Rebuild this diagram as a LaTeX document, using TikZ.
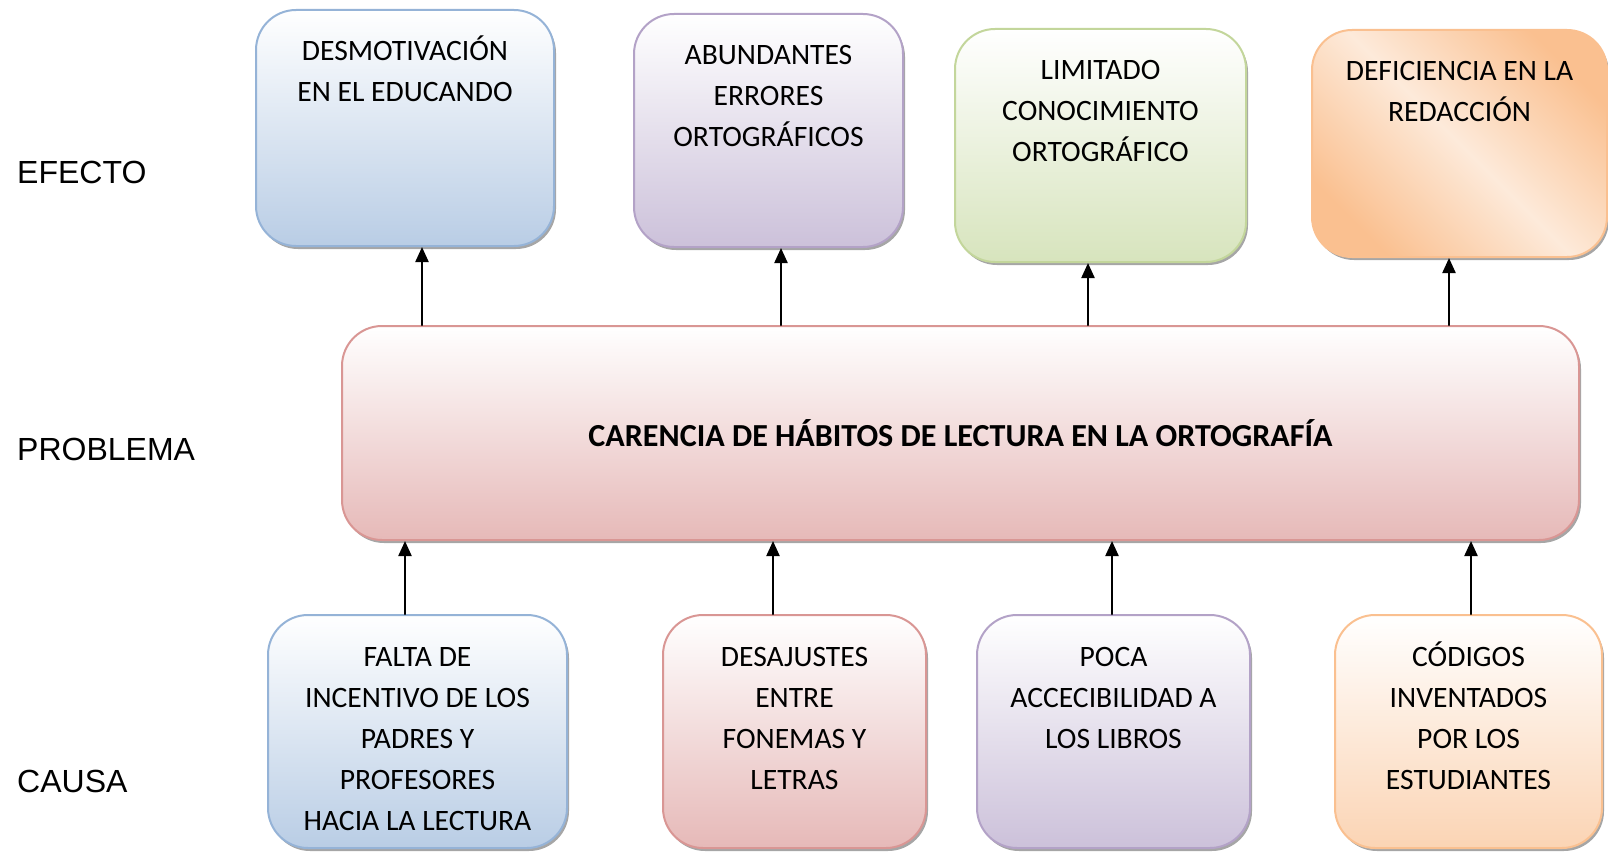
\documentclass[tikz,border=0pt]{standalone}
\usepackage{fontspec}
\setmainfont{Carlito}
\newfontfamily\arialfont{Liberation Sans}
\usetikzlibrary{arrows.meta, calc, positioning, shadows}
\definecolor{blueline}{RGB}{149,179,215}
\definecolor{bluefill}{RGB}{185,205,229}
\definecolor{purpleline}{RGB}{179,162,199}
\definecolor{purplefill}{RGB}{204,193,218}
\definecolor{greenline}{RGB}{195,214,155}
\definecolor{greenfill}{RGB}{215,228,189}
\definecolor{orangeline}{RGB}{250,192,144}
\definecolor{orangefill}{RGB}{251,212,180}
\definecolor{orangelight}{RGB}{253,234,218}
\definecolor{redline}{RGB}{217,150,148}
\definecolor{redfill}{RGB}{230,185,184}
% first line strut
\newcommand{\ftop}{\rule{0pt}{28.7pt}}

\begin{document}
\begin{tikzpicture}[x=1pt, y=-1pt, line cap=round, line join=round,
    box/.style={rounded corners=40pt, line width=2pt, inner sep=0pt,
      drop shadow={shadow xshift=2pt, shadow yshift=-3pt, fill=black, opacity=0.35}},
    bluebox/.style={draw=blueline, top color=white, bottom color=bluefill},
    purplebox/.style={draw=purpleline, top color=white, bottom color=purplefill},
    greenbox/.style={draw=greenline, top color=white, bottom color=greenfill},
    orangebox/.style={draw=orangeline, top color=white, bottom color=orangefill},
    redbox/.style={draw=redline, top color=white, bottom color=redfill},
    txt/.style={inner sep=0pt, align=center, font=\fontsize{29.6}{41}\selectfont},
    side/.style={anchor=west, inner sep=0pt, font=\arialfont\fontsize{32}{38}\selectfont},
    arr/.style={line width=2.2pt, -{Triangle[width=13pt,length=15pt]}}]
    \useasboundingbox (0,0) rectangle (1608,851);

    % row labels
    \node[side] (lef) at (17,172.5) {EFECTO};
    \node[side] (lpr) at (17,449.5) {PROBLEMA};
    \node[side] (lca) at (17,781.5) {CAUSA};

    % problem
    \node[box, redbox, minimum width=1237pt, minimum height=214pt,
      font=\bfseries\fontsize{32.1}{38}\selectfont] (p) at (960.5,433)
      {CARENCIA DE HÁBITOS DE LECTURA EN LA ORTOGRAFÍA};

    % effects
    \node[box, bluebox, minimum width=298pt, minimum height=236pt] (e1) at (405,128) {};
    \node[txt, below=23pt of e1.north] (e1t) {\ftop DESMOTIVACIÓN\\EN EL EDUCANDO};
    \node[box, purplebox, minimum width=269pt, minimum height=233pt] (e2) at (768.5,130.5) {};
    \node[txt, below=22.3pt of e2.north] (e2t) {\ftop ABUNDANTES\\ERRORES\\ORTOGRÁFICOS};
    \node[box, greenbox, minimum width=291pt, minimum height=233pt] (e3) at (1100.5,145.5) {};
    \node[txt, below=22.3pt of e3.north] (e3t) {\ftop LIMITADO\\CONOCIMIENTO\\ORTOGRÁFICO};
    \node[box, draw=orangeline, top color=orangeline, bottom color=orangeline,
      middle color=orangelight, shading angle=-45,
      minimum width=295pt, minimum height=227pt] (e4) at (1459.5,143.5) {};
    \node[txt, below=23pt of e4.north] (e4t) {\ftop DEFICIENCIA EN LA\\REDACCIÓN};

    % causes
    \node[box, bluebox, minimum width=299pt, minimum height=233pt] (c1) at (417.5,731.5) {};
    \node[txt, below=23.5pt of c1.north] (c1t) {\ftop FALTA DE\\INCENTIVO DE LOS\\PADRES Y\\PROFESORES\\HACIA LA LECTURA};
    \node[box, redbox, minimum width=263pt, minimum height=233pt] (c2) at (794.5,731.5) {};
    \node[txt, below=23.5pt of c2.north] (c2t) {\ftop DESAJUSTES\\ENTRE\\FONEMAS Y\\LETRAS};
    \node[box, purplebox, minimum width=273pt, minimum height=233pt] (c3) at (1113.5,731.5) {};
    \node[txt, below=23.5pt of c3.north] (c3t) {\ftop POCA\\ACCECIBILIDAD A\\LOS LIBROS};
    \node[box, orangebox, minimum width=267pt, minimum height=233pt] (c4) at (1468.5,731.5) {};
    \node[txt, below=23.5pt of c4.north] (c4t) {\ftop CÓDIGOS\\INVENTADOS\\POR LOS\\ESTUDIANTES};

    % arrows problem -> effects
    \draw[arr] ($(p.north -| e1.south)+(17,0)$) -- ($(e1.south)+(17,0)$);
    \draw[arr] ($(p.north -| e2.south)+(12.5,0)$) -- ($(e2.south)+(12.5,0)$);
    \draw[arr] ($(p.north -| e3.south)+(-12.5,0)$) -- ($(e3.south)+(-12.5,0)$);
    \draw[arr] ($(p.north -| e4.south)+(-10.5,0)$) -- ($(e4.south)+(-10.5,0)$);

    % arrows causes -> problem
    \draw[arr] ($(c1.north)+(-12.5,0)$) -- ($(p.south -| c1.north)+(-12.5,0)$);
    \draw[arr] ($(c2.north)+(-21.5,0)$) -- ($(p.south -| c2.north)+(-21.5,0)$);
    \draw[arr] ($(c3.north)+(-1.5,0)$) -- ($(p.south -| c3.north)+(-1.5,0)$);
    \draw[arr] ($(c4.north)+(2.5,0)$) -- ($(p.south -| c4.north)+(2.5,0)$);
\end{tikzpicture}
\end{document}
